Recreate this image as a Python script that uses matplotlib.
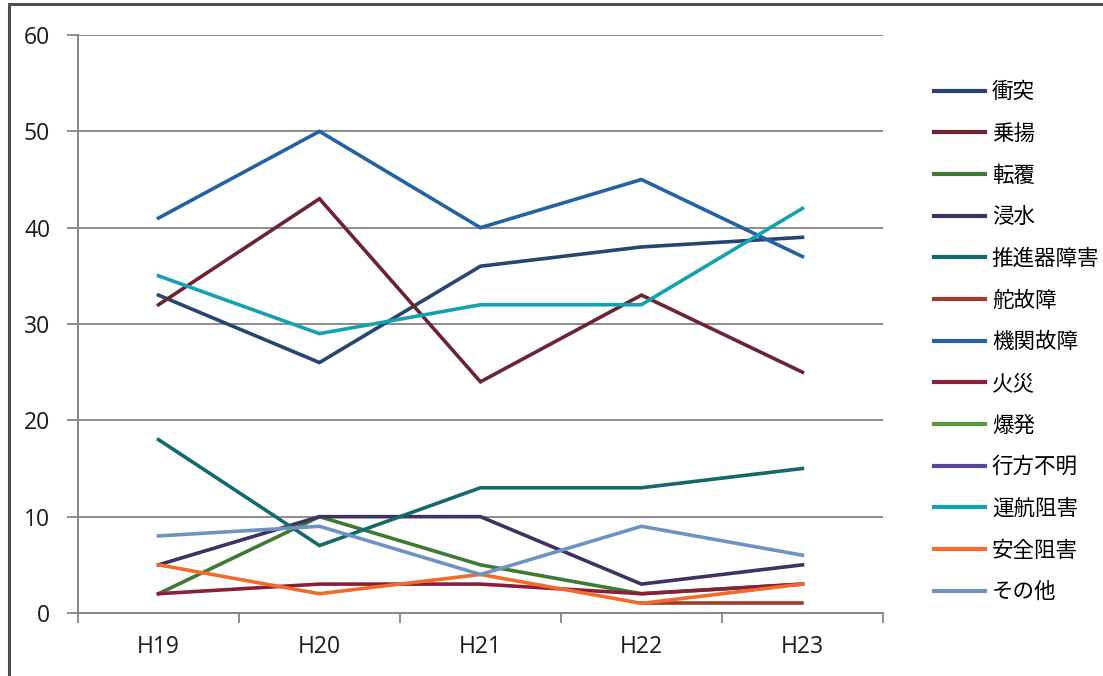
import numpy as np
import matplotlib
matplotlib.use('Agg')
import matplotlib.pyplot as plt
from matplotlib.patches import Rectangle

plt.rcParams['font.family'] = ['Open Sans', 'Noto Sans CJK JP', 'DejaVu Sans']

years = ['H19', 'H20', 'H21', 'H22', 'H23']
nan = np.nan

# values (nan = nothing visible)
shoutotsu = [33, 26, 36, 38, 39]
noriage = [32, 43, 24, 33, 25]
tenpuku = [2, 10, 5, 2, 3]
shinsui = [5, 10, 10, 3, 5]
suishinki = [18, 7, 13, 13, 15]
dako = [nan, nan, nan, 1, 1]
kikan = [41, 50, 40, 45, 37]
kasai = [2, 3, 3, 2, 3]
bakuhatsu = [nan, nan, nan, nan, nan]
yukue = [nan, nan, nan, nan, nan]
unkou = [35, 29, 32, 32, 42]
anzen = [5, 2, 4, 1, 3]
sonota = [8, 9, 4, 9, 6]

series = [
    ('衝突', shoutotsu, '#27456F'),
    ('乗揚', noriage, '#6B2530'),
    ('転覆', tenpuku, '#3F7A33'),
    ('浸水', shinsui, '#3E3260'),
    ('推進器障害', suishinki, '#16696B'),
    ('舵故障', dako, '#A0392E'),
    ('機関故障', kikan, '#2462A4'),
    ('火災', kasai, '#8B1F3A'),
    ('爆発', bakuhatsu, '#5A9A3E'),
    ('行方不明', yukue, '#5B4596'),
    ('運航阻害', unkou, '#14A2AE'),
    ('安全阻害', anzen, '#F26B2A'),
    ('その他', sonota, '#6E93C3'),
]

fig = plt.figure(figsize=(11.03, 6.76), dpi=100)
ax = fig.add_axes([0.0707, 0.0932, 0.7298, 0.855])

x = np.arange(len(years))
for name, vals, col in series:
    ax.plot(x, vals, color=col, lw=2.6, label=name, solid_joinstyle='miter')

ax.set_xlim(-0.5, len(years) - 0.5)
ax.set_ylim(0, 60)
ax.set_yticks(range(0, 61, 10))
ax.set_xticks(x)
ax.set_xticklabels(years)
ax.set_xticks(np.arange(-0.5, len(years), 1), minor=True)
ax.tick_params(axis='x', which='major', length=0, pad=16, labelsize=16.5, colors='#1a1a1a')
ax.tick_params(axis='x', which='minor', length=7, width=1.3, color='#868686')
ax.tick_params(axis='y', length=8, width=1.3, pad=12, labelsize=16.5, colors='#1a1a1a')
ax.tick_params(axis='y', color='#868686')
ax.yaxis.grid(True, color='#8C8C8C', lw=1.4)
ax.set_axisbelow(True)
for s in ['top', 'right']:
    ax.spines[s].set_visible(False)
for s in ['left', 'bottom']:
    ax.spines[s].set_color('#868686')
    ax.spines[s].set_linewidth(1.4)

leg = fig.legend(loc='upper left', bbox_to_anchor=(0.829, 0.907), frameon=False,
                 fontsize=15.5, handlelength=2.4, handletextpad=0.3, labelspacing=0.96)
for h in leg.get_lines():
    h.set_linewidth(3.0)

# outer chart frame
fig.patches.append(Rectangle((9 / 1103, -0.02), 1.2, 1 - 4 / 676 + 0.02,
                             transform=fig.transFigure, fill=False,
                             edgecolor='#4d4d4d', lw=2.2))

fig.savefig('out.png', dpi=100)
